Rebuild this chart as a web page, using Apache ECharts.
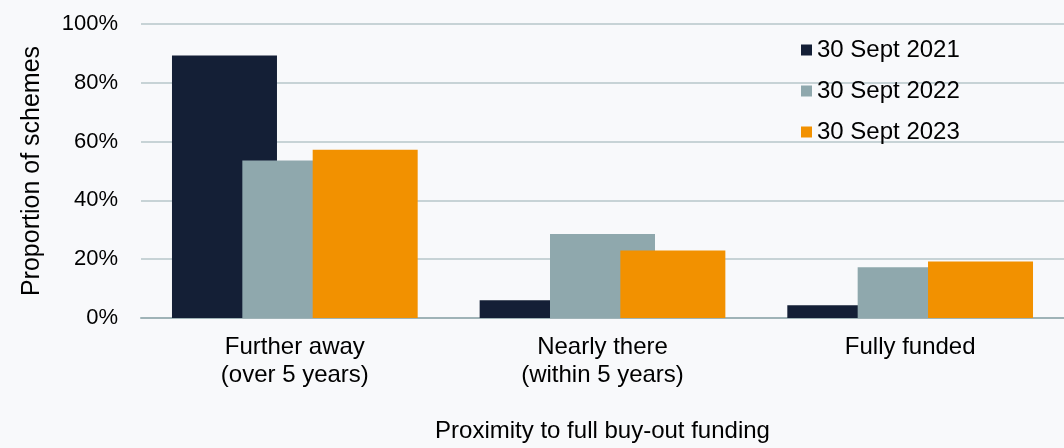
<!DOCTYPE html>
<html>
<head>
<meta charset="utf-8">
<script src="https://cdn.jsdelivr.net/npm/echarts@6/dist/echarts.min.js"></script>
<style>
html,body{margin:0;padding:0;background:#f8f9fb;}
#chart{width:1064px;height:448px;}
</style>
</head>
<body>
<div id="chart"></div>
<script>
const categories = ['Further away\n(over 5 years)', 'Nearly there\n(within 5 years)', 'Fully funded'];
const seriesNames = ['30 Sept 2021', '30 Sept 2022', '30 Sept 2023'];
const values2021 = [89.3, 6.0, 4.3];
const values2022 = [53.6, 28.6, 17.3];
const values2023 = [57.2, 23.0, 19.2];
const colors = ['#141f36', '#8fa8ad', '#f29100'];

const chart = echarts.init(document.getElementById('chart'));
const font = '"Liberation Sans", Arial, sans-serif';
const mk = (name, data, color) => ({
  name, type: 'bar', data, barWidth: 105, barGap: '-33%',
  itemStyle: { color }
});
chart.setOption({
  backgroundColor: '#f8f9fb',
  animation: false,
  textStyle: { fontFamily: font },
  grid: { left: 141, top: 24, width: 941, height: 300, containLabel: false },
  legend: {
    orient: 'vertical', left: 796, top: 33, itemGap: 17,
    itemWidth: 11, itemHeight: 11, icon: 'rect',
    textStyle: { fontSize: 24, color: '#000', fontFamily: font },
    data: seriesNames
  },
  xAxis: {
    type: 'category', data: categories,
    axisTick: { show: false },
    axisLine: { lineStyle: { color: '#9fb3b7', width: 2 } },
    axisLabel: { fontSize: 24, color: '#000', lineHeight: 28, margin: 15, fontFamily: font },
    name: 'Proximity to full buy-out funding', nameLocation: 'middle', nameGap: 101,
    nameTextStyle: { fontSize: 24, color: '#000', fontFamily: font }
  },
  yAxis: {
    type: 'value', min: 0, max: 100, interval: 20,
    axisLabel: { formatter: '{value}%', fontSize: 22, color: '#000', margin: 23, fontFamily: font },
    splitLine: { lineStyle: { color: '#c7d3d6', width: 2 } },
    axisLine: { show: false }, axisTick: { show: false },
    name: 'Proportion of schemes', nameLocation: 'middle', nameGap: 96,
    nameTextStyle: { fontSize: 25, color: '#000', fontFamily: font }
  },
  series: [
    mk(seriesNames[0], values2021, colors[0]),
    mk(seriesNames[1], values2022, colors[1]),
    mk(seriesNames[2], values2023, colors[2])
  ]
});
</script>
</body>
</html>
